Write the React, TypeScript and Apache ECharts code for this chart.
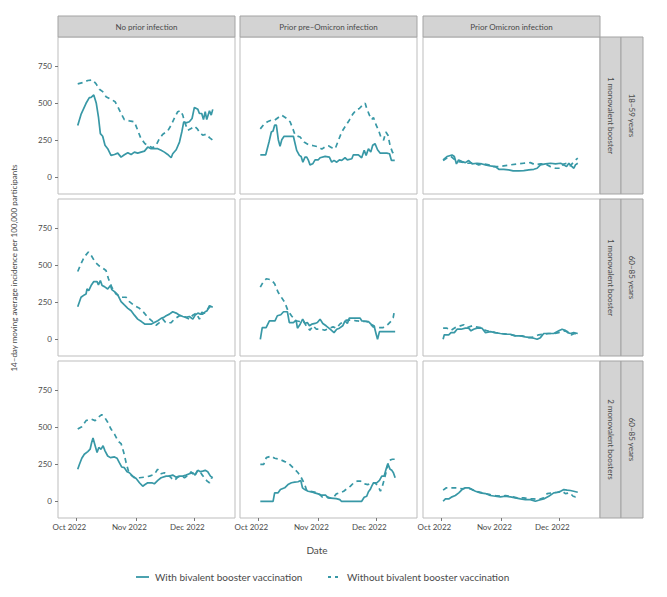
import React, { useEffect, useRef } from "react";
import * as echarts from "echarts";

// x values are days since 1 Oct 2022
const colTitles = ["No prior infection", "Prior pre\u2013Omicron infection", "Prior Omicron infection"];
const rowInner = ["1 monovalent booster", "1 monovalent booster", "2 monovalent boosters"];
const rowOuter = ["18\u201359 years", "60\u201385 years", "60\u201385 years"];
const seriesNames = ["With bivalent booster vaccination", "Without bivalent booster vaccination"];
const xTickDays = [0, 31, 61];
const xTickLabels = ["Oct 2022", "Nov 2022", "Dec 2022"];
const yTicks = [0, 250, 500, 750];

const r1c1With = [[0.7,350],[2.4,425],[5,500],[6.7,538],[7.6,540],[9,556],[10.3,500],[11.4,409],[12.4,295],[13.6,277],[14.8,216],[16.2,193],[17.9,148],[19.7,154],[21.4,163],[23.1,136],[24.8,152],[26.6,166],[28.3,154],[30,170],[31.7,163],[33.4,170],[35.2,177],[36.9,204],[38.6,193],[40.3,193],[42.1,193],[43.8,182],[45.5,170],[47.2,154],[49,132],[49.8,159],[51.6,186],[53.3,238],[54.5,306],[55.5,375],[56.7,368],[58.4,375],[59.8,397],[61,472],[62.8,459],[63.6,431],[64.8,431],[65.7,390],[66.6,443],[67.4,390],[68.8,450],[69.7,420],[70.5,459]];
const r1c1Without = [[0.7,631],[3.3,640],[5.9,654],[8.4,658],[10.2,631],[11.9,595],[13.6,579],[15.3,545],[17.9,527],[20,511],[21.4,477],[23.1,431],[24.8,390],[27.4,381],[30,375],[31.7,318],[33.4,261],[35.5,227],[37.8,209],[39.5,200],[41.2,216],[42.9,261],[44.7,291],[47.2,313],[49,352],[51,409],[52.4,443],[53.8,450],[55,420],[55.9,375],[57.6,318],[59.3,329],[61,345],[62.4,329],[63.6,306],[65.3,284],[67.1,291],[68.8,268],[70.5,250]];
const r1c2With = [[1,152],[3.8,152],[5.5,238],[6.7,306],[7.6,313],[8.4,352],[9.3,352],[10.3,254],[11.2,209],[12.1,254],[13.3,277],[18.1,277],[19,227],[19.8,182],[21.2,148],[22.1,141],[23,102],[24.1,136],[25,136],[25.9,114],[26.7,84],[28.1,91],[29.3,118],[31,118],[31.9,132],[34.5,141],[36.7,136],[37.9,102],[39.1,114],[40.5,102],[41.9,118],[43.1,114],[44.8,132],[46,118],[48.3,125],[49.1,152],[51.7,152],[53.4,132],[54.7,182],[55.7,148],[56.9,193],[58.1,170],[59.1,216],[60.3,227],[61.6,186],[63,163],[66.4,163],[67.8,159],[68.8,114],[70.5,114]];
const r1c2Without = [[1,327],[2.9,359],[4.7,375],[6.7,386],[8.4,386],[10.3,404],[12,420],[14.7,397],[16.4,375],[17.8,329],[19,284],[21.6,272],[23.6,238],[25.9,220],[28.5,213],[31,206],[32.8,190],[34.5,206],[36.2,213],[37.9,200],[39.7,193],[41.4,250],[43.1,306],[45.3,352],[47,386],[48.8,427],[50.5,454],[52.2,465],[53.9,488],[55.2,500],[56,465],[57.4,420],[58.6,390],[59.5,404],[60.9,352],[62.1,318],[63.3,272],[64.7,250],[65.9,306],[67,284],[68.1,213],[69.3,170],[69.8,163]];
const r1c3With = [[0.9,117],[2.9,140],[5.5,151],[6.7,140],[7.8,90],[8.9,117],[10.7,106],[12.4,99],[14.1,113],[15.9,90],[18.4,95],[21,90],[22.8,84],[25.3,77],[27.9,72],[29.7,54],[32.2,54],[34.8,50],[37.1,43],[40,43],[42.6,45],[45.2,50],[47.8,54],[49.5,61],[51.2,84],[53.8,90],[56.4,95],[59,90],[61.6,95],[63.3,84],[64.7,72],[65.9,95],[67.1,77],[68.5,61],[69.3,84],[70.5,95]];
const r1c3Without = [[0.9,113],[3.3,135],[5,140],[6.7,122],[8.9,106],[11.6,99],[14.1,95],[16.7,99],[19.3,84],[21.9,90],[24.5,84],[27.1,72],[29.7,72],[32.2,77],[35.7,84],[39.1,90],[42.6,95],[46,99],[48.6,84],[51.2,90],[53.8,90],[56.4,72],[59,61],[61.6,61],[63.3,90],[65,95],[66.7,77],[68.4,106],[70.5,129]];

const r2c1With = [[0.7,220],[1.6,254],[2.4,284],[4.1,300],[5,306],[5.5,340],[6.4,329],[7.6,363],[9,390],[10.7,390],[11.4,368],[12.4,397],[13.3,363],[14.5,356],[16.2,340],[17.6,363],[18.3,336],[19.7,322],[21.4,300],[23.1,254],[24.8,232],[26.6,209],[28.3,193],[30,163],[31.7,136],[33.8,118],[35.5,102],[38.6,102],[40.3,113],[42.1,125],[43.8,141],[45.2,148],[46.4,159],[48.1,170],[49.8,186],[51.6,177],[53.3,163],[55,154],[56.7,148],[58.4,154],[60.2,136],[61.4,163],[62.8,177],[64.1,170],[65.3,170],[66.6,186],[67.6,193],[68.8,227],[70.5,216]];
const r2c1Without = [[0.7,458],[2.4,510],[4.1,556],[6.2,590],[7.6,568],[9.7,522],[11.9,495],[13.6,481],[15.3,465],[16.6,409],[18.3,352],[20.5,306],[23.1,284],[25.7,284],[27.4,254],[30,227],[32.6,209],[34.8,182],[36.9,148],[39,125],[41.2,95],[42.9,113],[44.7,136],[46.4,109],[49,113],[50.7,136],[53.3,159],[55,159],[56.7,148],[58.4,136],[60.2,163],[61.9,177],[63.6,136],[64.8,182],[66.2,177],[67.9,204],[69.3,222],[70.5,216]];
const r2c2With = [[1,0],[2,79],[4,79],[5.7,125],[8.6,125],[9.8,159],[11.6,166],[13,186],[15,186],[16,113],[18.1,113],[19.5,129],[20.2,75],[21.6,102],[22.9,136],[24.1,107],[25.3,113],[26.4,91],[27.6,102],[29.3,107],[30.5,113],[31.9,136],[33.3,107],[35,91],[37.1,68],[39.1,45],[40.5,68],[41.9,75],[43.6,91],[44.8,125],[46,107],[47,143],[52.6,143],[53.4,125],[56.9,120],[58.6,98],[59.8,91],[60.9,34],[61.6,0],[62.6,52],[70.7,52]];
const r2c2Without = [[1,352],[2.4,386],[4.1,409],[6.7,402],[8.4,375],[10.2,318],[11.9,284],[13.6,250],[15.3,193],[17.1,159],[19.3,125],[21.4,120],[23.1,125],[24.8,91],[26.6,61],[28.3,91],[30,68],[32.6,68],[34.3,61],[36.6,75],[38.6,84],[40.3,75],[42.1,102],[43.8,120],[45.5,129],[48.1,129],[50.7,125],[53.3,120],[55.9,120],[57.6,107],[59.3,84],[61.9,79],[64.5,79],[67.1,102],[68.8,125],[69.7,147],[70.5,204]];
const r2c3With = [[0.9,0],[1.5,30],[3.8,30],[5,45],[6.7,45],[8.1,68],[10.2,68],[12.4,75],[14.1,75],[15.3,57],[16.7,68],[18.4,75],[21,75],[22.8,45],[25.3,52],[27.9,45],[30.5,39],[33.1,34],[35.7,34],[38.3,23],[40.9,23],[43.4,16],[46,11],[47.8,7],[49.5,0],[51.2,11],[52.9,39],[55.5,39],[58.1,39],[60.7,57],[62.4,68],[64.1,61],[65.3,45],[66.7,39],[68.4,45],[70.5,39]];
const r2c3Without = [[0.9,75],[2.9,75],[5,61],[7.2,79],[9.8,91],[11.6,98],[13.3,79],[15.9,91],[17.6,84],[20.2,79],[22.8,61],[25.3,52],[27.9,45],[31.4,39],[34.8,34],[38.3,23],[41.7,23],[45.2,11],[47.8,16],[50.3,30],[52.9,34],[55.5,39],[58.1,39],[60.7,45],[63.3,57],[65.3,52],[67.1,30],[68.8,39],[70.5,34]];

const r3c1With = [[0.7,216],[1.6,250],[2.8,291],[4.1,318],[5.9,336],[7.1,352],[7.9,397],[8.6,427],[9.7,375],[10.7,329],[11.6,363],[12.8,352],[13.8,375],[14.8,341],[16.2,306],[17.6,295],[19.7,300],[21,291],[22.2,261],[23.4,232],[24.8,227],[26.2,200],[27.4,193],[29.1,170],[30.9,154],[32.6,125],[34.3,102],[35.5,113],[36.9,125],[39,125],[40.3,118],[42.1,141],[43.8,159],[46.4,170],[48.1,170],[49.8,177],[51.6,163],[53.3,170],[55,170],[56.7,177],[58.4,186],[60.2,193],[61.4,177],[62.8,209],[64.1,200],[65.3,204],[66.6,209],[67.9,200],[69.3,170],[70.5,159]];
const r3c1Without = [[0.7,488],[2.8,504],[5,545],[7.6,556],[9.7,545],[11.4,568],[13.1,586],[14.8,563],[16.2,534],[17.9,488],[19.7,454],[21.7,404],[23.1,390],[24.5,329],[25.7,261],[26.9,204],[28.3,177],[30,159],[32.6,159],[35.2,163],[37.8,170],[40.3,182],[42,216],[43.8,186],[45.5,193],[47.6,177],[49.3,154],[50.7,141],[52.4,163],[54.1,170],[55.9,159],[57.9,177],[59.3,200],[61,170],[62.4,204],[63.6,209],[64.8,182],[66.2,159],[67.6,136],[68.8,125],[70,159]];
const r3c2With = [[1,0],[7.6,0],[8.4,57],[10.2,57],[11.4,79],[13.6,91],[15.3,113],[17.1,125],[18.8,129],[20.5,132],[21.9,141],[22.8,91],[24,79],[25.7,68],[27.4,64],[29.1,57],[30.9,50],[32.6,41],[34.8,41],[36,23],[40.3,18],[42.1,11],[42.9,0],[53.4,0],[54.7,27],[56,34],[56.9,64],[57.8,79],[58.6,102],[59.5,125],[61.2,125],[62.6,141],[63.8,170],[65,170],[66,216],[66.9,254],[68.1,216],[69,209],[69.8,193],[70.7,159]];
const r3c2Without = [[1,250],[2.8,250],[4.1,295],[6.7,306],[8.4,291],[11,284],[13.6,268],[15.3,261],[17.1,238],[18.8,216],[20.5,193],[22.2,159],[24,113],[24.8,79],[26.2,68],[28.3,64],[30.9,57],[33.1,27],[34.8,34],[36.9,23],[38.6,23],[40.3,50],[42.1,57],[44.1,68],[45.9,86],[47.6,102],[49.3,125],[51,136],[52.8,136],[54.5,118],[56.7,113],[58.4,125],[60.2,125],[61.9,102],[63.1,68],[64.1,102],[65.3,159],[66.6,227],[67.6,277],[69.3,284],[70.5,284]];
const r3c3With = [[0.9,0],[2.1,16],[3.8,16],[5.5,30],[7.2,39],[9,57],[10.7,79],[12.4,91],[14.1,91],[15.9,79],[17.6,68],[20.2,57],[22.8,52],[25.3,39],[27.9,34],[30.5,30],[33.1,34],[35.7,30],[38.3,23],[40.9,16],[43.4,11],[46,11],[48.6,0],[50.3,7],[52.9,16],[55.5,34],[58.1,57],[60.7,61],[63.3,79],[65,75],[66.7,73],[68.4,68],[70.5,61]];
const r3c3Without = [[0.9,75],[2.6,91],[5.5,91],[8.1,91],[10.7,84],[13.3,91],[15,84],[17.6,68],[20.2,61],[22.8,52],[25.3,45],[27.9,39],[30.5,34],[33.1,39],[35.7,34],[39.1,23],[42.6,23],[45.2,16],[47.8,16],[50.3,11],[52.9,23],[54.7,52],[57.2,57],[59.8,61],[62.4,68],[64.1,52],[66.4,57],[68.1,34],[69.3,30],[70.5,39]];

const panelWith = [r1c1With, r1c2With, r1c3With, r2c1With, r2c2With, r2c3With, r3c1With, r3c2With, r3c3With];
const panelWithout = [r1c1Without, r1c2Without, r1c3Without, r2c1Without, r2c2Without, r2c3Without, r3c1Without, r3c2Without, r3c3Without];

const FONT = "Lato";
const TEAL = "#3898a6";
const TEXT = "#4a4a4a";
const DASH = [5, 4];
const colLeft = [58, 240, 423];
const colW = 177;
const rowTop = [37, 199, 361];
const rowH = 157;

export default function App() {
  const ref = useRef<HTMLDivElement>(null);
  useEffect(() => {
    if (!ref.current) return;
    const chart = echarts.init(ref.current, null, { renderer: "svg" });
    const grids: any[] = [];
    const xAxes: any[] = [];
    const yAxes: any[] = [];
    const series: any[] = [];
    for (let r = 0; r < 3; r++) {
      for (let c = 0; c < 3; c++) {
        const i = r * 3 + c;
        grids.push({
          left: colLeft[c], top: rowTop[r], width: colW, height: rowH,
          show: true, borderColor: "#bdbdbd", borderWidth: 1, backgroundColor: "#fff",
        });
        xAxes.push({
          type: "value", gridIndex: i, min: -9.5, max: 82, position: "bottom",
          axisLine: { show: false, onZero: false }, splitLine: { show: false },
          axisTick: { show: r === 2, length: 3, customValues: xTickDays, lineStyle: { color: "#777" } },
          axisLabel: {
            show: r === 2, customValues: xTickDays, margin: 5, fontSize: 8, color: TEXT, fontFamily: FONT,
            padding: [0, 14, 0, 0],
            formatter: (v: number) => xTickLabels[xTickDays.indexOf(Math.round(v))] ?? "",
          },
        });
        yAxes.push({
          type: "value", gridIndex: i, min: -113, max: 948, position: "left",
          axisLine: { show: false, onZero: false }, splitLine: { show: false },
          axisTick: { show: c === 0, length: 3, customValues: yTicks, lineStyle: { color: "#777" } },
          axisLabel: { show: c === 0, customValues: yTicks, margin: 6, fontSize: 8, color: TEXT, fontFamily: FONT },
        });
        series.push({
          type: "line", name: seriesNames[0], xAxisIndex: i, yAxisIndex: i, data: panelWith[i],
          symbol: "none", showSymbol: false, lineStyle: { color: TEAL, width: 1.7 },
        });
        series.push({
          type: "line", name: seriesNames[1], xAxisIndex: i, yAxisIndex: i, data: panelWithout[i],
          symbol: "none", showSymbol: false, lineStyle: { color: TEAL, width: 1.7, type: DASH },
        });
      }
    }
    const graphics: any[] = [];
    const stripStyle = { fill: "#d3d3d3", stroke: "#a3a3a3", lineWidth: 1 };
    for (let c = 0; c < 3; c++) {
      graphics.push({ type: "rect", shape: { x: colLeft[c], y: 16, width: colW, height: 21 }, style: stripStyle });
      graphics.push({ type: "text", x: colLeft[c] + colW / 2, y: 26.5,
        style: { text: colTitles[c], align: "center", verticalAlign: "middle", fontSize: 8, fill: TEXT, fontFamily: FONT } });
    }
    for (let r = 0; r < 3; r++) {
      graphics.push({ type: "rect", shape: { x: 600, y: rowTop[r], width: 21, height: rowH }, style: stripStyle });
      graphics.push({ type: "rect", shape: { x: 621, y: rowTop[r], width: 22, height: rowH }, style: stripStyle });
      graphics.push({ type: "text", x: 610.5, y: rowTop[r] + rowH / 2, rotation: -Math.PI / 2,
        style: { text: rowInner[r], align: "center", verticalAlign: "middle", fontSize: 8, fill: TEXT, fontFamily: FONT } });
      graphics.push({ type: "text", x: 632, y: rowTop[r] + rowH / 2, rotation: -Math.PI / 2,
        style: { text: rowOuter[r], align: "center", verticalAlign: "middle", fontSize: 8, fill: TEXT, fontFamily: FONT } });
    }
    graphics.push({ type: "text", x: 14, y: 268, rotation: Math.PI / 2,
      style: { text: "14\u2013day moving average incidence per 100,000 participants", align: "center", verticalAlign: "middle", fontSize: 8, fill: TEXT, fontFamily: FONT } });
    graphics.push({ type: "text", x: 317, y: 550,
      style: { text: "Date", align: "center", verticalAlign: "middle", fontSize: 10, fill: TEXT, fontFamily: FONT } });
    // legend
    graphics.push({ type: "line", shape: { x1: 136, y1: 577, x2: 149, y2: 577 }, style: { stroke: TEAL, lineWidth: 1.8 } });
    graphics.push({ type: "text", x: 155, y: 577,
      style: { text: seriesNames[0], align: "left", verticalAlign: "middle", fontSize: 10, fill: TEXT, fontFamily: FONT } });
    graphics.push({ type: "line", shape: { x1: 328, y1: 577, x2: 341, y2: 577 }, style: { stroke: TEAL, lineWidth: 1.8, lineDash: [3, 4] } });
    graphics.push({ type: "text", x: 347, y: 577,
      style: { text: seriesNames[1], align: "left", verticalAlign: "middle", fontSize: 10, fill: TEXT, fontFamily: FONT } });

    chart.setOption({
      animation: false,
      textStyle: { fontFamily: FONT },
      grid: grids,
      xAxis: xAxes,
      yAxis: yAxes,
      series,
      graphic: graphics,
    });
    return () => chart.dispose();
  }, []);
  return <div ref={ref} style={{ position: "fixed", left: 0, top: 0, width: 667, height: 597, background: "#fff" }} />;
}
